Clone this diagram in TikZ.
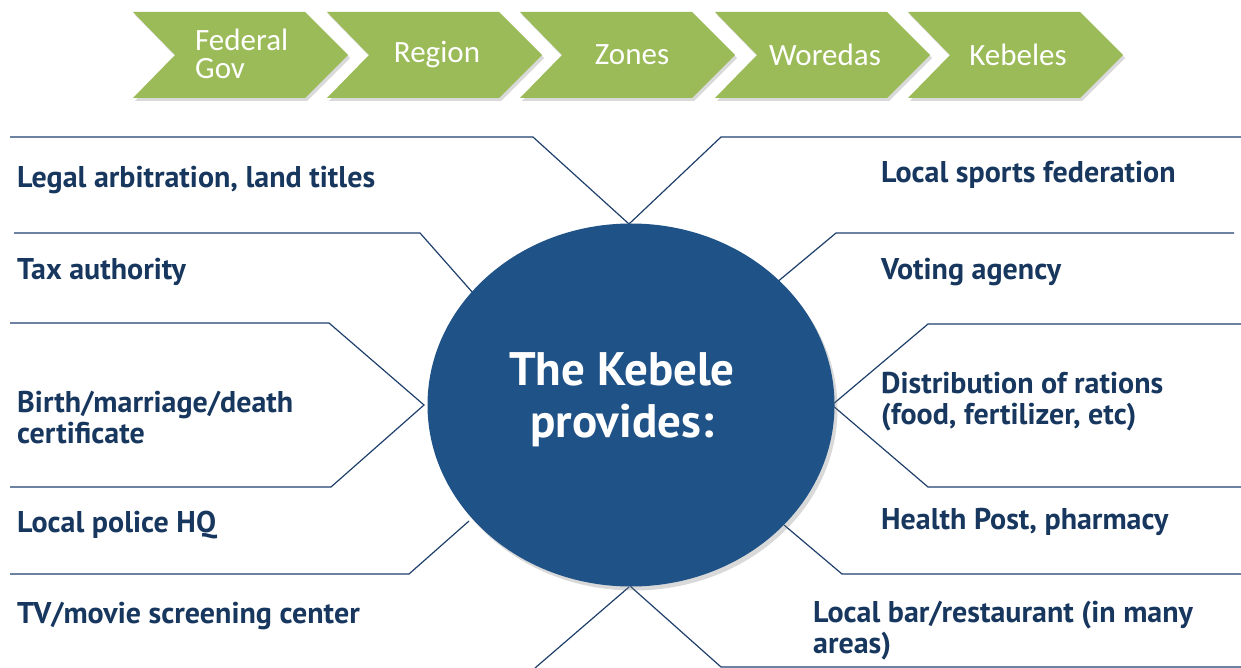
\documentclass[tikz,border=0pt]{standalone}
\usepackage{fontspec}
\setmainfont{PT Sans}
\newfontfamily\chevfont{Carlito}
\usetikzlibrary{shadows,shapes.geometric}
\definecolor{chevgreen}{HTML}{9BBB59}
\definecolor{kblue}{HTML}{1F5287}
\definecolor{navy}{HTML}{17375E}
\definecolor{lineblue}{HTML}{1F3F6B}
\begin{document}
\begin{tikzpicture}[x=1pt,y=-1pt,
  chev/.style={fill=chevgreen, drop shadow={opacity=0.3, shadow xshift=2pt, shadow yshift=-3pt}},
  chevtext/.style={text=white, font=\chevfont\fontsize{31}{28}\selectfont, inner sep=0pt},
  item/.style={text=navy, font=\bfseries\fontsize{30}{31}\selectfont, anchor=west, align=left, inner sep=0pt},
  ray/.style={draw=lineblue, line width=1.2pt}]
\useasboundingbox (0,0) rectangle (1241,668);
% chevrons
\foreach \s in {133,327,520,715,908}{
  \fill[chev] (\s,12) -- (\s+172,12) -- (\s+215,55) -- (\s+172,98) -- (\s,98) -- (\s+42,55) -- cycle;
}
\node[chevtext, anchor=west, align=left] (c1) at (195,54) {Federal\\Gov};
\node[chevtext] (c2) at (437,55) {Region};
\node[chevtext] (c3) at (632,55) {Zones};
\node[chevtext] (c4) at (825,55) {Woredas};
\node[chevtext] (c5) at (1018,55) {Kebeles};
% rays
\draw[ray] (10,137) -- (533,137) -- (629,224);
\draw[ray] (629,224) -- (721,137) -- (1241,137);
\draw[ray] (14,233) -- (420,233) -- (473,293);
\draw[ray] (776,283) -- (836,233) -- (1234,233);
\draw[ray] (10,323) -- (329,323) -- (424,405) -- (331,487) -- (10,487);
\draw[ray] (1241,324) -- (928,324) -- (832,405) -- (928,487) -- (1241,487);
\draw[ray] (469,521) -- (409,574) -- (10,574);
\draw[ray] (784,525) -- (842,574) -- (1241,574);
\draw[ray] (629,587) -- (535,668);
\draw[ray] (630,586) -- (721,667) -- (1241,667);
% circle
\node[ellipse, fill=kblue, minimum width=407pt, minimum height=363pt, inner sep=0pt,
  drop shadow={opacity=0.3, shadow xshift=3pt, shadow yshift=-4pt}] (kebele) at (631,405) {};
\node[text=white, font=\bfseries\fontsize{47}{52}\selectfont, align=center, inner sep=0pt] (kt) at (622,400) {The Kebele\\provides:};
% items left
\node[item] (l1) at (17,180) {Legal arbitration, land titles};
\node[item] (l2) at (17,272) {Tax authority};
\node[item] (l3) at (17,418) {Birth/marriage/death\\certificate};
\node[item] (l4) at (17,525) {Local police HQ};
\node[item] (l5) at (17,616) {TV/movie screening center};
% items right
\node[item] (r1) at (881,175) {Local sports federation};
\node[item] (r2) at (881,272) {Voting agency};
\node[item] (r3) at (881,402) {Distribution of rations\\(food, fertilizer, etc)};
\node[item] (r4) at (881,522) {Health Post, pharmacy};
\node[item] (r5) at (813,631) {Local bar/restaurant (in many\\areas)};
\end{tikzpicture}
\end{document}
